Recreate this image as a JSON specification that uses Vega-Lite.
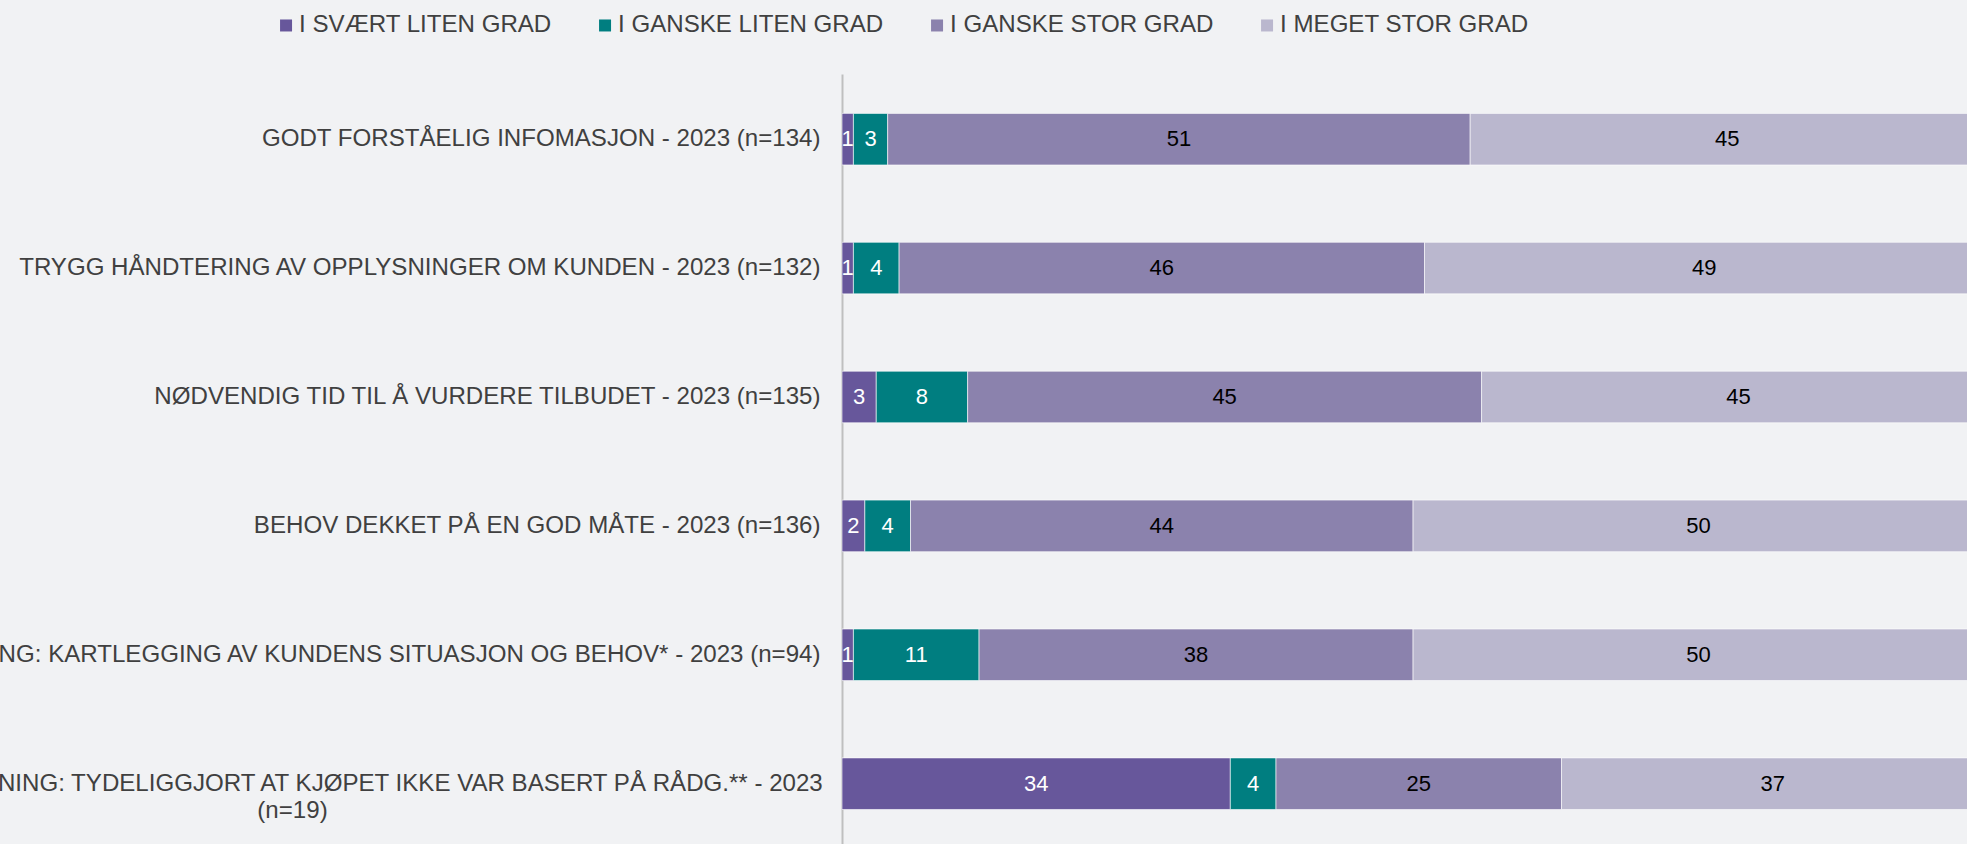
{
  "$schema": "https://vega.github.io/schema/vega-lite/v6.json",
  "width": 1125,
  "height": 770,
  "autosize": {"type": "none"},
  "padding": {"left": 842, "top": 74, "right": 0, "bottom": 0},
  "background": "#F1F2F4",
  "config": {"view": {"stroke": null}, "font": "Liberation Sans"},
  "data": {
    "values": [
      {"item": "GODT FORSTÅELIG INFOMASJON - 2023 (n=134)", "cat": "I SVÆRT LITEN GRAD", "order": 1, "value": 1},
      {"item": "GODT FORSTÅELIG INFOMASJON - 2023 (n=134)", "cat": "I GANSKE LITEN GRAD", "order": 2, "value": 3},
      {"item": "GODT FORSTÅELIG INFOMASJON - 2023 (n=134)", "cat": "I GANSKE STOR GRAD", "order": 3, "value": 51},
      {"item": "GODT FORSTÅELIG INFOMASJON - 2023 (n=134)", "cat": "I MEGET STOR GRAD", "order": 4, "value": 45},
      {"item": "TRYGG HÅNDTERING AV OPPLYSNINGER OM KUNDEN - 2023 (n=132)", "cat": "I SVÆRT LITEN GRAD", "order": 1, "value": 1},
      {"item": "TRYGG HÅNDTERING AV OPPLYSNINGER OM KUNDEN - 2023 (n=132)", "cat": "I GANSKE LITEN GRAD", "order": 2, "value": 4},
      {"item": "TRYGG HÅNDTERING AV OPPLYSNINGER OM KUNDEN - 2023 (n=132)", "cat": "I GANSKE STOR GRAD", "order": 3, "value": 46},
      {"item": "TRYGG HÅNDTERING AV OPPLYSNINGER OM KUNDEN - 2023 (n=132)", "cat": "I MEGET STOR GRAD", "order": 4, "value": 49},
      {"item": "NØDVENDIG TID TIL Å VURDERE TILBUDET - 2023 (n=135)", "cat": "I SVÆRT LITEN GRAD", "order": 1, "value": 3},
      {"item": "NØDVENDIG TID TIL Å VURDERE TILBUDET - 2023 (n=135)", "cat": "I GANSKE LITEN GRAD", "order": 2, "value": 8},
      {"item": "NØDVENDIG TID TIL Å VURDERE TILBUDET - 2023 (n=135)", "cat": "I GANSKE STOR GRAD", "order": 3, "value": 45},
      {"item": "NØDVENDIG TID TIL Å VURDERE TILBUDET - 2023 (n=135)", "cat": "I MEGET STOR GRAD", "order": 4, "value": 45},
      {"item": "BEHOV DEKKET PÅ EN GOD MÅTE - 2023 (n=136)", "cat": "I SVÆRT LITEN GRAD", "order": 1, "value": 2},
      {"item": "BEHOV DEKKET PÅ EN GOD MÅTE - 2023 (n=136)", "cat": "I GANSKE LITEN GRAD", "order": 2, "value": 4},
      {"item": "BEHOV DEKKET PÅ EN GOD MÅTE - 2023 (n=136)", "cat": "I GANSKE STOR GRAD", "order": 3, "value": 44},
      {"item": "BEHOV DEKKET PÅ EN GOD MÅTE - 2023 (n=136)", "cat": "I MEGET STOR GRAD", "order": 4, "value": 50},
      {"item": "SALG MED RÅDGIVNING: KARTLEGGING AV KUNDENS SITUASJON OG BEHOV* - 2023 (n=94)", "cat": "I SVÆRT LITEN GRAD", "order": 1, "value": 1},
      {"item": "SALG MED RÅDGIVNING: KARTLEGGING AV KUNDENS SITUASJON OG BEHOV* - 2023 (n=94)", "cat": "I GANSKE LITEN GRAD", "order": 2, "value": 11},
      {"item": "SALG MED RÅDGIVNING: KARTLEGGING AV KUNDENS SITUASJON OG BEHOV* - 2023 (n=94)", "cat": "I GANSKE STOR GRAD", "order": 3, "value": 38},
      {"item": "SALG MED RÅDGIVNING: KARTLEGGING AV KUNDENS SITUASJON OG BEHOV* - 2023 (n=94)", "cat": "I MEGET STOR GRAD", "order": 4, "value": 50},
      {"item": "SALG UTEN RÅDGIVNING: TYDELIGGJORT AT KJØPET IKKE VAR BASERT PÅ RÅDG.**  - 2023|(n=19)", "cat": "I SVÆRT LITEN GRAD", "order": 1, "value": 34},
      {"item": "SALG UTEN RÅDGIVNING: TYDELIGGJORT AT KJØPET IKKE VAR BASERT PÅ RÅDG.**  - 2023|(n=19)", "cat": "I GANSKE LITEN GRAD", "order": 2, "value": 4},
      {"item": "SALG UTEN RÅDGIVNING: TYDELIGGJORT AT KJØPET IKKE VAR BASERT PÅ RÅDG.**  - 2023|(n=19)", "cat": "I GANSKE STOR GRAD", "order": 3, "value": 25},
      {"item": "SALG UTEN RÅDGIVNING: TYDELIGGJORT AT KJØPET IKKE VAR BASERT PÅ RÅDG.**  - 2023|(n=19)", "cat": "I MEGET STOR GRAD", "order": 4, "value": 37}
    ]
  },
  "transform": [
    {"stack": "value", "groupby": ["item"], "sort": [{"field": "order", "order": "ascending"}], "as": ["x0", "x1"]},
    {"calculate": "(datum.x0 + datum.x1) / 2", "as": "mid"}
  ],
  "encoding": {
    "y": {
      "field": "item",
      "type": "nominal",
      "sort": null,
      "scale": {"paddingInner": 0.6, "paddingOuter": 0.2867, "align": 0.533},
      "axis": {
        "title": null,
        "ticks": false,
        "tickSize": 0,
        "domainColor": "#BFBFBF",
        "domainWidth": 2,
        "labelFont": "Liberation Sans",
        "labelFontSize": 24.1,
        "labelColor": "#404040",
        "labelLimit": 3000,
        "labelLineHeight": 27.5,
        "labelExpr": "split(datum.value, '|')",
        "labelAlign": {"condition": {"test": "indexof(datum.value, '|') >= 0", "value": "center"}, "value": "right"},
        "labelPadding": {"condition": {"test": "indexof(datum.value, '|') >= 0", "value": 550}, "value": 22}
      }
    }
  },
  "layer": [
    {
      "mark": {"type": "bar", "clip": true, "stroke": "#FFFFFF", "strokeWidth": 1, "strokeOpacity": 0.6},
      "encoding": {
        "x": {"field": "x0", "type": "quantitative", "scale": {"domain": [0, 98.5], "nice": false, "zero": true}, "axis": null},
        "x2": {"field": "x1"},
        "color": {
          "field": "cat",
          "type": "nominal",
          "scale": {
            "domain": ["I SVÆRT LITEN GRAD", "I GANSKE LITEN GRAD", "I GANSKE STOR GRAD", "I MEGET STOR GRAD"],
            "range": ["#67579B", "#007E80", "#8B82AD", "#BAB7CE"]
          },
          "legend": {
            "title": null,
            "orient": "none",
            "direction": "horizontal",
            "columns": 4,
            "legendX": -568,
            "legendY": -61,
            "symbolType": "square",
            "symbolSize": 144,
            "symbolStrokeWidth": 0,
            "symbolOpacity": 1,
            "labelFont": "Liberation Sans",
            "labelFontSize": 24.1,
            "labelColor": "#404040",
            "labelOffset": 1,
            "labelLimit": 1000,
            "columnPadding": 41
          }
        }
      }
    },
    {
      "mark": {"type": "text", "font": "Liberation Sans", "fontSize": 22, "baseline": "middle", "align": "center"},
      "encoding": {
        "x": {"field": "mid", "type": "quantitative"},
        "text": {"field": "value", "type": "quantitative"},
        "color": {"condition": {"test": "datum.order <= 2", "value": "#FFFFFF"}, "value": "#000000"}
      }
    }
  ]
}
